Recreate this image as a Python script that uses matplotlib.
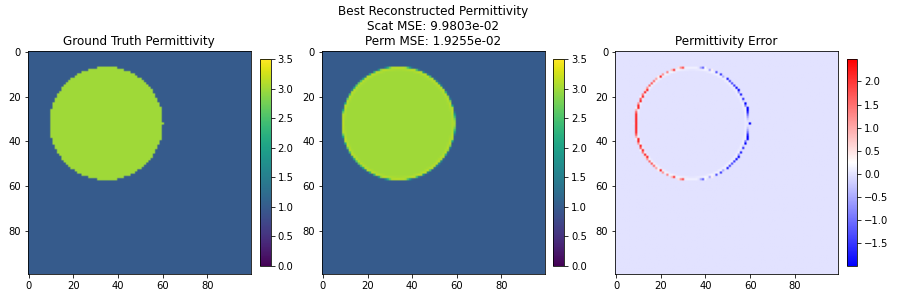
import numpy as np
import matplotlib
matplotlib.use("Agg")
import matplotlib.pyplot as plt

# ---- data ----
GRID_N = 100
BG_PERM = 1.0
CIRCLE_PERM = 3.0
GT_CENTER = (34.6, 32.0)      # (col, row)
GT_RADIUS = 25.41
REC_CENTER = (33.8, 32.0)
REC_RADIUS = 25.5
REC_EDGE_SHARPNESS = 1.6
REC_EDGE_OVERSHOOT = 0.15
PERM_RANGE = (0.0, 3.5)
ERR_RANGE = (-1.99, 2.48)
TITLES = ["Ground Truth Permittivity",
          "Best Reconstructed Permittivity\nScat MSE: 9.9803e-02\nPerm MSE: 1.9255e-02",
          "Permittivity Error"]
TICKS = [0, 20, 40, 60, 80]

# ---- build images from the circle parameters ----
rows, cols = np.mgrid[0:GRID_N, 0:GRID_N]
d_gt = np.hypot(cols - GT_CENTER[0], rows - GT_CENTER[1])
gt = np.where(d_gt <= GT_RADIUS, CIRCLE_PERM, BG_PERM)

d_rec = np.hypot(cols - REC_CENTER[0], rows - REC_CENTER[1])
cover = np.clip((REC_RADIUS - d_rec) * REC_EDGE_SHARPNESS + 0.5, 0.0, 1.0)
ring = np.clip(1.0 - np.abs(REC_RADIUS - 0.7 - d_rec), 0.0, 1.0)
rec = BG_PERM + (CIRCLE_PERM - BG_PERM) * cover + REC_EDGE_OVERSHOOT * ring * cover
err = rec - gt

W, H = 897, 299
fig = plt.figure(figsize=(W / 72, H / 72), dpi=72)

def fx(x0, x1, y0, y1):
    return [x0 / W, (H - y1) / H, (x1 - x0) / W, (y1 - y0) / H]

ax_boxes = [fx(27.7, 250.7, 51, 274), fx(321.7, 545, 51, 274), fx(615, 838.3, 51, 274)]
cb_boxes = [fx(260, 270.7, 59.3, 266), fx(553.3, 564, 59.3, 266), fx(846.7, 857, 59.3, 266)]

images = [gt, rec, err]
cmaps = ["viridis", "viridis", "bwr"]
ranges = [PERM_RANGE, PERM_RANGE, ERR_RANGE]

for img, cm, rng, title, ab, cbb in zip(images, cmaps, ranges, TITLES, ax_boxes, cb_boxes):
    ax = fig.add_axes(ab)
    im = ax.imshow(img, cmap=cm, vmin=rng[0], vmax=rng[1])
    ax.set_xticks(TICKS)
    ax.set_yticks(TICKS)
    ax.set_title(title)
    cax = fig.add_axes(cbb)
    fig.colorbar(im, cax=cax)

fig.savefig("out.png", dpi=72)
